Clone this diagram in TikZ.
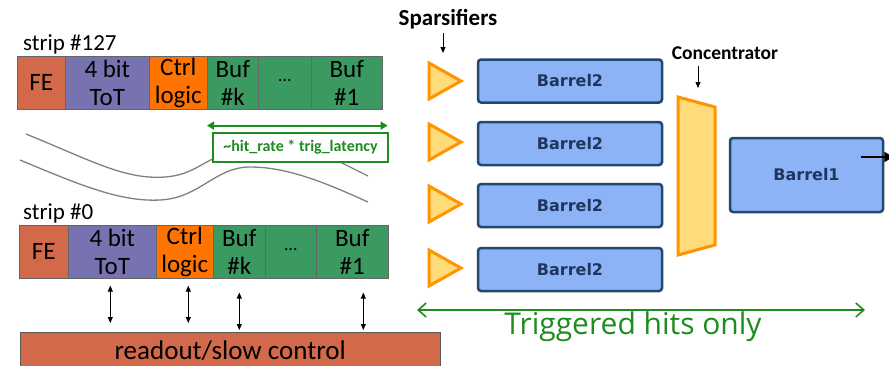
\documentclass[tikz,border=0pt]{standalone}
\usepackage{fontspec}
\setmainfont{Carlito}
\newfontfamily\verd{DejaVu Sans}
\newfontfamily\comicf{Open Sans}
\usetikzlibrary{arrows.meta}
\definecolor{FEc}{HTML}{D2694B}
\definecolor{ToTc}{HTML}{7673B0}
\definecolor{Ctrlc}{HTML}{FF7300}
\definecolor{Bufc}{HTML}{3A9A62}
\definecolor{barfill}{HTML}{8DB3F7}
\definecolor{barline}{HTML}{23476F}
\definecolor{barText}{HTML}{1F3560}
\definecolor{trifill}{HTML}{FFDB7A}
\definecolor{triline}{HTML}{FF9300}
\definecolor{grn}{HTML}{1E8C1E}
\begin{document}
\begin{tikzpicture}[x=1pt,y=-1pt,
  cell/.style={draw=gray!80!black, line width=0.6pt, anchor=north west, inner sep=0pt,
    minimum height=53pt, align=center, font=\fontsize{25}{28}\selectfont},
  lbl/.style={font=\fontsize{23}{26}\selectfont, anchor=base west, inner sep=0pt},
  dbl/.style={{Triangle[length=6pt,width=5pt]}-{Triangle[length=6pt,width=5pt]}, line width=0.8pt},
  barrel/.style={draw=barline, fill=barfill, line width=2.5pt, rounded corners=3pt,
    font=\verd\bfseries\fontsize{16}{18}\selectfont, text=barText},
  spars/.style={draw=triline, fill=trifill, line width=3pt, line join=miter},
  hdr/.style={font=\bfseries\fontsize{23}{25}\selectfont, inner sep=0pt}]
\useasboundingbox (0,0) rectangle (889,365);
% strip 127
\node[lbl] (s127) at (23,50) {strip \#127};
\node[cell, fill=FEc, minimum width=48pt] (fe127) at (17,56) {FE};
\node[cell, fill=ToTc, minimum width=84pt] (tot127) at (65,56) {4 bit\\ToT};
\node[cell, fill=Ctrlc, minimum width=58pt] (ctrl127) at (149,56) {Ctrl\\logic};
\node[cell, fill=Bufc, minimum width=51pt] (bufk127) at (207,56) {Buf\\\#k};
\node[cell, fill=Bufc, minimum width=53pt] (dots127) at (258,56) {\raisebox{4pt}{\fontsize{18}{20}\selectfont\dots}};
\node[cell, fill=Bufc, minimum width=71pt] (buf1127) at (311,56) {Buf\\\#1};
% wavy lines
\draw[gray, line width=1.3pt] (26,134) .. controls (90,160) and (125,180) .. (165,177)
  .. controls (195,175) and (205,158) .. (230,153) .. controls (280,143) and (315,150) .. (340,162) -- (368,176);
\draw[gray, line width=1.3pt] (20,160) .. controls (80,185) and (120,202) .. (160,200)
  .. controls (200,198) and (215,167) .. (250,167) .. controls (290,167) and (330,185) .. (368,202);
% latency arrow and label
\draw[grn, line width=1.8pt, {Triangle[length=7pt,width=8pt]}-{Triangle[length=7pt,width=8pt]}]
  ([yshift=-16pt]bufk127.south west) -- ([xshift=5pt,yshift=-16pt]buf1127.south east);
\node[draw=grn, line width=1.2pt, fill=white, minimum width=175pt, minimum height=29pt, inner sep=0pt,
  text=grn, font=\bfseries\fontsize{16}{18}\selectfont] (lat) at (300.5,147.5) {\textasciitilde hit\_rate * trig\_latency};
% strip 0
\node[lbl] (s0) at (23,219) {strip \#0};
\node[cell, fill=FEc, minimum width=49pt] (fe0) at (19,225) {FE};
\node[cell, fill=ToTc, minimum width=88pt] (tot0) at (68,225) {4 bit\\ToT};
\node[cell, fill=Ctrlc, minimum width=57pt] (ctrl0) at (156,225) {Ctrl\\logic};
\node[cell, fill=Bufc, minimum width=52pt] (bufk0) at (213,225) {Buf\\\#k};
\node[cell, fill=Bufc, minimum width=51pt] (dots0) at (265,225) {\raisebox{4pt}{\fontsize{18}{20}\selectfont\dots}};
\node[cell, fill=Bufc, minimum width=72pt] (buf10) at (316,225) {Buf\\\#1};
% readout
\node[draw=gray!70!black, fill=FEc, anchor=north west, minimum width=420pt, minimum height=40pt, inner sep=0pt,
  font=\fontsize{27}{29}\selectfont] (ro) at (20,332) {\raisebox{5pt}{readout/slow control}};
\draw[dbl, shorten <=7pt, shorten >=9pt] ([xshift=-2pt]tot0.south) -- ([xshift=-2pt]tot0.south |- ro.north);
\draw[dbl, shorten <=7pt, shorten >=9pt] ([xshift=3.5pt]ctrl0.south) -- ([xshift=3.5pt]ctrl0.south |- ro.north);
\draw[dbl, shorten <=14pt, shorten >=2pt] (bufk0.south) -- (bufk0.south |- ro.north);
\draw[dbl, shorten <=14pt, shorten >=2pt] ([xshift=11pt]buf10.south) -- ([xshift=11pt]buf10.south |- ro.north);
% sparsifiers
\node[hdr] (sp) at (448,19) {Sparsifiers};
\foreach \i/\yc in {1/81,2/142,3/204,4/268}{
  \draw[spars] (429,\yc-18) -- (461,\yc) -- (429,\yc+18) -- cycle;
  \coordinate (t\i) at (443,\yc-10);
}
\draw[-{Triangle[length=6pt,width=5pt]}, line width=0.8pt] (sp.south -| t1) ++(0,-4pt) -- ([yshift=4pt]t1 |- 0,57);
\node[barrel, minimum width=184pt, minimum height=43pt] (b21) at (570,81) {Barrel2};
\node[barrel, minimum width=184pt, minimum height=43pt] (b22) at (570,143.5) {Barrel2};
\node[barrel, minimum width=184pt, minimum height=43pt] (b23) at (570,205.5) {Barrel2};
\node[barrel, minimum width=184pt, minimum height=43pt] (b24) at (570,269.5) {Barrel2};
% concentrator
\draw[spars] (678,97) -- (715,107) -- (715,245) -- (678,255) -- cycle;
\coordinate (conc) at (698,92);
\node[hdr, font=\bfseries\fontsize{19.5}{21}\selectfont] (ct) at (725,53) {Concentrator};
\draw[-{Triangle[length=6pt,width=5pt]}, line width=0.8pt] (ct.south -| conc) ++(0,-6pt) -- ([yshift=4pt]conc);
% barrel1
\node[barrel, minimum width=153pt, minimum height=74pt] (b1) at (806.5,175) {Barrel1};
\draw[-{Triangle[length=9pt,width=10pt]}, line width=2.2pt] ([xshift=-23pt,yshift=18pt]b1.east) -- ++(32pt,0);
% triggered hits
\coordinate (ga) at (417,310);
\coordinate (gb) at (865,310);
\draw[grn, line width=1.6pt, {Straight Barb[length=8pt,width=14pt]}-{Straight Barb[length=8pt,width=14pt]}] (ga) -- (gb);
\node[text=grn, font=\comicf\fontsize{30}{32}\selectfont, inner sep=0pt] (th) at (633,327) {Triggered hits only};
\end{tikzpicture}
\end{document}
